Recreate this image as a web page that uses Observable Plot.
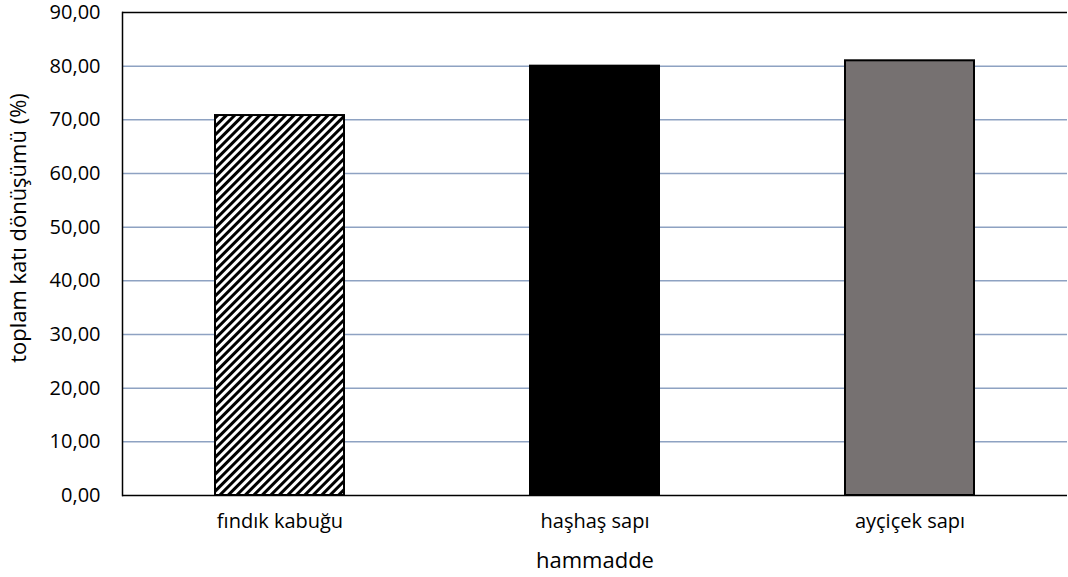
<!DOCTYPE html>
<html><head><meta charset="utf-8">
<script src="https://cdn.jsdelivr.net/npm/d3@7"></script>
<script src="https://cdn.jsdelivr.net/npm/@observablehq/plot@0.6"></script>
<style>
body{margin:0;background:#fff;font-family:"Open Sans",sans-serif}
svg g[aria-label="x-axis tick label"], svg g[aria-label="y-axis tick label"],
svg g[aria-label="x-axis tick label"] text, svg g[aria-label="y-axis tick label"] text{font-size:20px !important;font-family:"Open Sans",sans-serif !important}
svg{overflow:visible}
</style>
</head><body><div id="chart"></div>
<script>
const categories = ["fındık kabuğu", "haşhaş sapı", "ayçiçek sapı"];
const values = [70.8, 80.0, 81.0];
const fills = ["url(#hatch)", "#000000", "#767171"];
const yTicks = [0,10,20,30,40,50,60,70,80,90];

const data = categories.map((c,i)=>({cat:c, v:values[i], f:fills[i]}));
const fmt = d => d3.format(".2f")(d).replace(".", ",");

const chart = Plot.plot({
  width: 1068, height: 577,
  marginLeft: 122, marginTop: 12, marginRight: 1, marginBottom: 82,
  style: {fontFamily: "'Open Sans', sans-serif", fontSize: "20px", color: "#000", background: "#fff", overflow: "visible"},
  x: {domain: categories, paddingInner: 0.59, paddingOuter: 0.295, label: null},
  y: {domain: [0, 90], label: null},
  marks: [
    Plot.gridY(yTicks.filter(t=>t>0 && t<90), {stroke: "#8ea2c2", strokeOpacity: 1, strokeWidth: 1.5}),
    Plot.barY(data, {x: "cat", y: "v", fill: "f", stroke: "#000", strokeWidth: 2}),
    Plot.ruleY([0, 90], {stroke: "#000", strokeWidth: 1.5}),
    Plot.axisX({tickSize: 0, tickPadding: 18, fontSize: 20, label: null}),
    Plot.axisY({ticks: yTicks, tickFormat: fmt, tickSize: 0, tickPadding: 22, fontSize: 20, label: null}),
    Plot.frame({stroke: "#000", strokeWidth: 1.5, anchor: "left"})
  ]
});

const svg = d3.select(chart);
const defs = svg.insert("defs", ":first-child");
const pat = defs.append("pattern").attr("id", "hatch").attr("patternUnits", "userSpaceOnUse")
  .attr("width", 6).attr("height", 6).attr("patternTransform", "rotate(45)");
pat.append("rect").attr("width", 6).attr("height", 6).attr("fill", "#fff");
pat.append("rect").attr("width", 3).attr("height", 6).attr("fill", "#000");

svg.append("text").attr("transform", "translate(20,228) rotate(-90)").attr("text-anchor", "middle")
  .attr("dominant-baseline", "middle")
  .attr("font-size", 22).attr("font-family", "'Open Sans', sans-serif").attr("fill", "#000").text("toplam katı dönüşümü (%)");
svg.append("text").attr("x", 595).attr("y", 568).attr("text-anchor", "middle")
  .attr("font-size", 22).attr("font-family", "'Open Sans', sans-serif").attr("fill", "#000").text("hammadde");

document.getElementById("chart").appendChild(chart);
</script></body></html>
